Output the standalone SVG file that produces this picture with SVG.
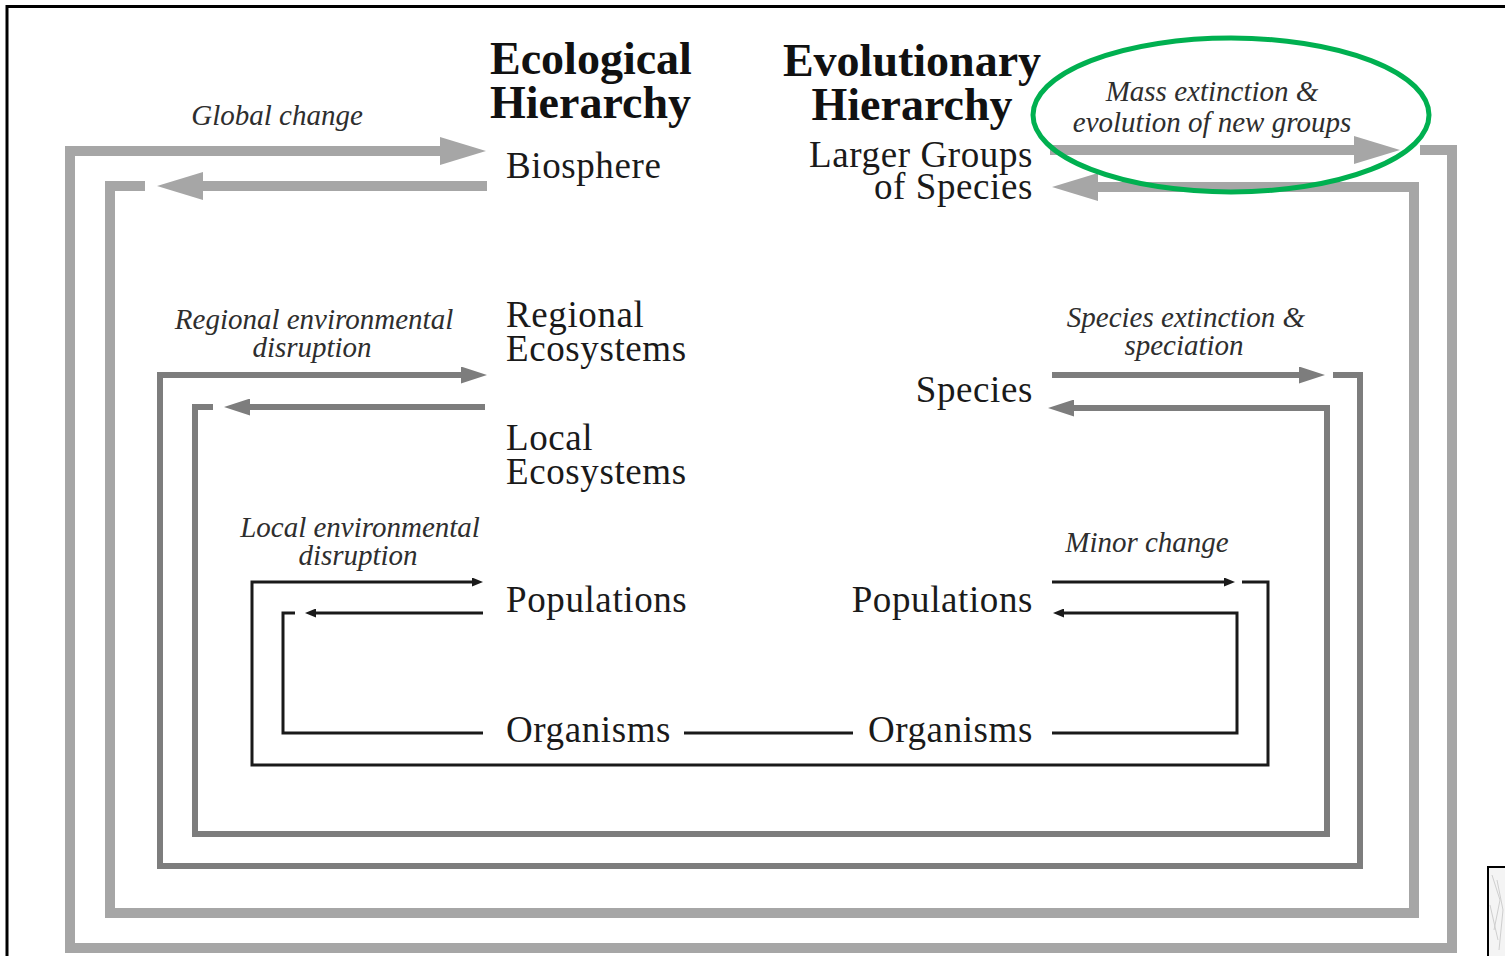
<svg xmlns="http://www.w3.org/2000/svg" width="1505" height="956" viewBox="0 0 1505 956">
  <style>
    .hdr { font-family: "Liberation Serif", "Times New Roman", serif; font-weight: bold; font-size: 46px; fill: #111; }
    .lvl { font-family: "Liberation Serif", "Times New Roman", serif; font-size: 37px; letter-spacing: 0.6px; fill: #1a1a1a; }
    .lab { font-family: "Liberation Serif", "Times New Roman", serif; font-style: italic; font-size: 29px; fill: #2e2e2e; text-anchor: middle; }
    .g1 { fill: none; stroke: #a6a6a6; stroke-width: 10; stroke-linejoin: miter; }
    .g2 { fill: none; stroke: #7d7d7d; stroke-width: 6; stroke-linejoin: miter; }
    .g3 { fill: none; stroke: #1a1a1a; stroke-width: 3; stroke-linejoin: miter; }
  </style>
  <defs>
    <marker id="hBig" markerUnits="userSpaceOnUse" viewBox="0 0 46 28" markerWidth="46" markerHeight="28" refX="1" refY="14" orient="auto">
      <path d="M0,0 L46,14 L0,28 z" fill="#a6a6a6"/>
    </marker>
    <marker id="hMid" markerUnits="userSpaceOnUse" viewBox="0 0 26 17" markerWidth="26" markerHeight="17" refX="1" refY="8.5" orient="auto">
      <path d="M0,0 L26,8.5 L0,17 z" fill="#7d7d7d"/>
    </marker>
    <marker id="hSm" markerUnits="userSpaceOnUse" viewBox="0 0 11 9" markerWidth="11" markerHeight="9" refX="1" refY="4.5" orient="auto">
      <path d="M0,0 L11,4.5 L0,9 z" fill="#1a1a1a"/>
    </marker>
  </defs>

  <rect width="1505" height="956" fill="#ffffff"/>
  <!-- frame -->
  <path d="M7,956 V6.5 H1505" fill="none" stroke="#000" stroke-width="3"/>

  <g id="connectors">
    <!-- global loop -->
    <path class="g1" d="M1420,150 H1452 V948 H70 V151 H441" marker-end="url(#hBig)"/>
    <path class="g1" d="M1050,150 H1355" marker-end="url(#hBig)"/>
    <path class="g1" d="M487,186 H202" marker-end="url(#hBig)"/>
    <path class="g1" d="M145,186 H110 V913 H1414 V187 H1097" marker-end="url(#hBig)"/>
    <!-- regional loop -->
    <path class="g2" d="M1333,375 H1360 V866 H160 V375 H462" marker-end="url(#hMid)"/>
    <path class="g2" d="M1052,375 H1300" marker-end="url(#hMid)"/>
    <path class="g2" d="M485,407 H249" marker-end="url(#hMid)"/>
    <path class="g2" d="M213,407 H195 V834 H1327 V408 H1073" marker-end="url(#hMid)"/>
    <!-- local loop -->
    <path class="g3" d="M1242,582 H1268 V765 H252 V582 H473" marker-end="url(#hSm)"/>
    <path class="g3" d="M1052,582 H1225" marker-end="url(#hSm)"/>
    <path class="g3" d="M483,613 H315" marker-end="url(#hSm)"/>
    <path class="g3" d="M295,613 H283 V733 H483"/>
    <path class="g3" d="M684,733 H853"/>
    <path class="g3" d="M1052,733 H1237 V613 H1063" marker-end="url(#hSm)"/>
  </g>

  <g id="ecological-header"><text class="hdr" x="490" y="74">Ecological</text><text class="hdr" x="490" y="118">Hierarchy</text></g>
  <g id="evolutionary-header"><text class="hdr" x="912" y="76" text-anchor="middle">Evolutionary</text><text class="hdr" x="912" y="120" text-anchor="middle">Hierarchy</text></g>

  <g id="biosphere"><text class="lvl" x="506" y="178">Biosphere</text></g>
  <g id="larger-groups"><text class="lvl" x="1033" y="167" text-anchor="end">Larger Groups</text><text class="lvl" x="1033" y="199" text-anchor="end">of Species</text></g>
  <g id="regional-ecosystems"><text class="lvl" x="506" y="327">Regional</text><text class="lvl" x="506" y="361">Ecosystems</text></g>
  <g id="local-ecosystems"><text class="lvl" x="506" y="450">Local</text><text class="lvl" x="506" y="484">Ecosystems</text></g>
  <g id="species"><text class="lvl" x="1033" y="402" text-anchor="end">Species</text></g>
  <g id="populations-eco"><text class="lvl" x="506" y="612">Populations</text></g>
  <g id="populations-evo"><text class="lvl" x="1033" y="612" text-anchor="end">Populations</text></g>
  <g id="organisms-eco"><text class="lvl" x="506" y="742">Organisms</text></g>
  <g id="organisms-evo"><text class="lvl" x="1033" y="742" text-anchor="end">Organisms</text></g>

  <g id="label-global"><text class="lab" x="277" y="125">Global change</text></g>
  <g id="label-mass"><text class="lab" x="1212" y="101">Mass extinction &amp;</text><text class="lab" x="1212" y="132">evolution of  new groups</text></g>
  <g id="label-regional"><text class="lab" x="314" y="329">Regional environmental</text><text class="lab" x="312" y="357">disruption</text></g>
  <g id="label-species"><text class="lab" x="1186" y="327">Species extinction &amp;</text><text class="lab" x="1184" y="355">speciation</text></g>
  <g id="label-local"><text class="lab" x="360" y="537">Local environmental</text><text class="lab" x="358" y="565">disruption</text></g>
  <g id="label-minor"><text class="lab" x="1147" y="552">Minor change</text></g>

  <g id="highlight"><ellipse cx="1231" cy="115" rx="198" ry="77" fill="none" stroke="#00b050" stroke-width="5"/></g>

  <g id="thumbnail">
    <rect x="1488" y="867" width="20" height="95" fill="#f4f4f4" stroke="#000" stroke-width="2"/>
    <path d="M1492,875 L1500,900 L1494,930 M1497,880 L1503,910 L1499,950 M1490,905 L1498,940" fill="none" stroke="#cfcfcf" stroke-width="1"/>
  </g>
</svg>
